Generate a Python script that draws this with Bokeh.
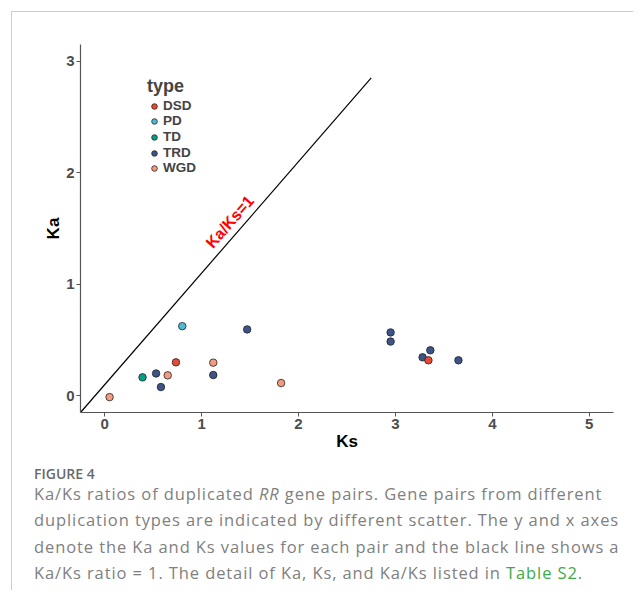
from bokeh.plotting import figure
from bokeh.models import Range1d, Legend, LegendItem, Div, FixedTicker, Label, ColumnDataSource
from bokeh.layouts import column
from bokeh.transform import factor_cmap
from bokeh.embed import file_html
from bokeh.resources import INLINE

# ---- data ----
types = ["DSD", "PD", "TD", "TRD", "WGD"]
type_colors = ["#E64B35", "#4DBBD5", "#00A087", "#3C5488", "#F39B7F"]

pair_type = ["WGD", "TD", "TRD", "TRD", "WGD", "DSD", "PD", "WGD", "TRD", "TRD",
             "WGD", "TRD", "TRD", "TRD", "TRD", "DSD", "TRD"]
ks = [0.05, 0.39, 0.53, 0.58, 0.65, 0.735, 0.80, 1.12, 1.12, 1.47,
      1.82, 2.95, 2.95, 3.28, 3.36, 3.34, 3.65]
ka = [-0.012, 0.165, 0.20, 0.078, 0.183, 0.30, 0.624, 0.297, 0.186, 0.595,
      0.114, 0.568, 0.486, 0.345, 0.408, 0.318, 0.318]

x_ticks = [0, 1, 2, 3, 4, 5]
y_ticks = [0, 1, 2, 3]
ref_line_ks = [-0.25, 2.75]
ref_line_ka = [-0.15, 2.85]
ref_label = "Ka/Ks=1"

caption_title = "FIGURE 4"
caption_lines = [
    'Ka/Ks ratios of duplicated <i>RR</i> gene pairs. Gene pairs from different',
    'duplication types are indicated by different scatter. The y and x axes',
    'denote the Ka and Ks values for each pair and the black line shows a',
    'Ka/Ks ratio = 1. The detail of Ka, Ks, and Ka/Ks listed in '
    '<span style="color:#3daa48;">Table S2</span>.',
]

FONT = "Liberation Sans"

p = figure(width=621, height=448, output_backend="svg", toolbar_location=None,
           x_range=Range1d(-0.25, 5.25), y_range=Range1d(-0.15, 3.15),
           min_border_left=68, min_border_top=32, min_border_right=20, min_border_bottom=48)
p.outline_line_color = None
p.xgrid.visible = False
p.ygrid.visible = False
p.background_fill_color = "white"
p.border_fill_color = "white"

for ax, ticks in ((p.xaxis[0], x_ticks), (p.yaxis[0], y_ticks)):
    ax.ticker = FixedTicker(ticks=ticks)
    ax.minor_tick_line_color = None
    ax.major_tick_in = 0
    ax.major_tick_out = 4
    ax.axis_line_color = "#555555"
    ax.major_tick_line_color = "#555555"
    ax.axis_line_width = 1.2
    ax.major_label_text_font = FONT
    ax.major_label_text_font_style = "bold"
    ax.major_label_text_font_size = "15px"
    ax.major_label_text_color = "#4d4d4d"
    ax.major_label_standoff = 2
    ax.axis_label_text_font = FONT
    ax.axis_label_text_font_style = "bold"
    ax.axis_label_text_font_size = "17px"
    ax.axis_label_text_color = "black"
    ax.axis_label_standoff = 0

p.xaxis.axis_label = "Ks"
p.yaxis.axis_label = "Ka"

p.line(ref_line_ks, ref_line_ka, line_color="black", line_width=1.2)

src = ColumnDataSource(dict(ks=ks, ka=ka, t=pair_type))
r = p.scatter("ks", "ka", source=src, size=7.5,
              fill_color=factor_cmap("t", palette=type_colors, factors=types),
              line_color="#222222", line_width=0.8)

p.add_layout(Label(x=1.29, y=1.56, text=ref_label, angle=48.8, angle_units="deg",
                   text_align="center", text_baseline="middle", text_color="red",
                   text_font=FONT, text_font_style="bold", text_font_size="16px"))

# legend: one entry per Legend so the rows can sit as tightly as in the reference
legend_x = 67
legend_bottom_first = 299   # screen px from frame bottom
legend_row_step = 15.5
for i, t in enumerate(types):
    kw = {}
    if i == 0:
        kw = dict(title="type", title_text_font=FONT, title_text_font_style="bold",
                  title_text_font_size="18px", title_standoff=1)
    lg = Legend(items=[LegendItem(label=t, renderers=[r], index=pair_type.index(t))],
                location=(legend_x, round(legend_bottom_first - i * legend_row_step)),
                label_text_font=FONT, label_text_font_style="bold", label_text_font_size="13.5px",
                glyph_width=14, glyph_height=14, label_height=10, label_standoff=2,
                spacing=0, padding=0, margin=0,
                border_line_color=None, background_fill_alpha=0, **kw)
    p.add_layout(lg)

line_divs = "".join(
    '<div style="font-size:16.5px;line-height:22px;margin-top:%spx;letter-spacing:0.9px;">%s</div>'
    % ("0" if i == 0 else "4.5", txt) for i, txt in enumerate(caption_lines))
caption_html = (
    '<div style="font-family:\'Open Sans\';color:#808080;padding-left:22px;white-space:nowrap;">'
    '<div style="font-size:14px;line-height:19px;padding-top:3.5px;font-weight:600;color:#6a6a6a;">'
    + caption_title + '</div>' + line_divs + '</div>'
)
cap = Div(text=caption_html, width=621, height=130, margin=0)

layout = column(p, cap, margin=(11, 0, 0, 11),
                styles={"border-left": "1px solid #cccccc", "border-top": "1px solid #cccccc"})

open("out.html", "w").write(file_html(layout, INLINE))
